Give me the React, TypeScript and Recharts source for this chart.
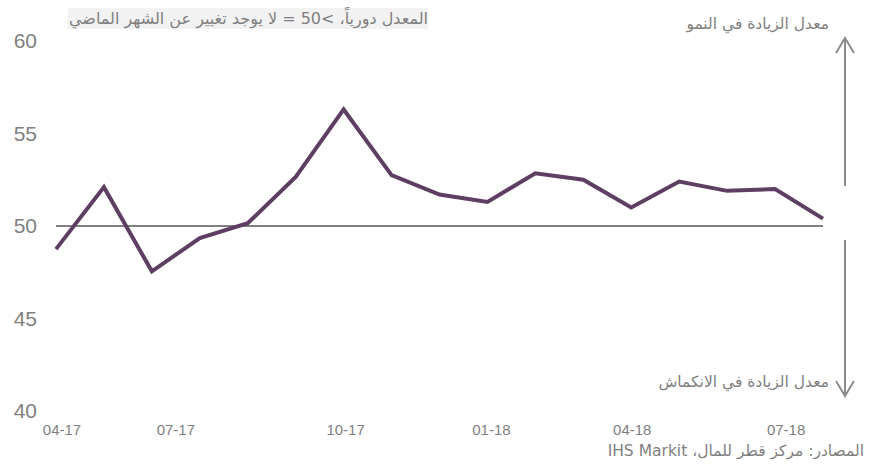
import { LineChart, Line, XAxis, YAxis, ReferenceLine } from "recharts";

const months = [
  "04-17", "05-17", "06-17", "07-17", "08-17", "09-17", "10-17", "11-17", "12-17",
  "01-18", "02-18", "03-18", "04-18", "05-18", "06-18", "07-18", "08-18",
];
const pmi = [
  48.75, 52.1, 47.55, 49.35, 50.15, 52.65, 56.3, 52.75, 51.7,
  51.3, 52.85, 52.5, 51.0, 52.4, 51.9, 52.0, 50.4,
];
const xTicks = ["04-17", "07-17", "10-17", "01-18", "04-18", "07-18"];
const yTicks = [40, 45, 50, 55, 60];

const noteText = "المعدل دورياً، >50 = لا يوجد تغيير عن الشهر الماضي";
const upText = "معدل الزيادة في النمو";
const downText = "معدل الزيادة في الانكماش";
const sourceText = "المصادر: مركز قطر للمال، IHS Markit";

const data = months.map((m, i) => ({ month: m, value: pmi[i] }));

const grey = "#808080";
const arabicFont = "'DejaVu Sans', Tahoma, sans-serif";

// labels in the original sit a little off their points
const tickShift: Record<string, number> = { "04-17": 6, "07-17": -24, "10-17": 2, "01-18": 4, "04-18": 1, "07-18": 11 };

const XTick = (props: any) => {
  const { x, y, payload } = props;
  return (
    <text x={x + (tickShift[payload.value] || 0)} y={y} dy="0.71em" textAnchor="middle"
      fill={grey} fontSize={15} fontFamily="'Liberation Sans', Arial, sans-serif">
      {payload.value}
    </text>
  );
};

const Arrow = ({ x, y1, y2 }: { x: number; y1: number; y2: number }) => {
  const dir = y2 < y1 ? 1 : -1;
  return (
    <g stroke="#8c8c8c" strokeWidth={2} fill="none">
      <line x1={x} y1={y1} x2={x} y2={y2} />
      <polyline points={`${x - 9},${y2 + dir * 15} ${x},${y2} ${x + 9},${y2 + dir * 15}`} />
    </g>
  );
};

const textStyle: React.CSSProperties = {
  position: "absolute",
  direction: "rtl",
  fontFamily: arabicFont,
  fontSize: 15.5,
  color: "#7f7f7f",
  whiteSpace: "nowrap",
  lineHeight: "21px",
};

export default function App() {
  return (
    <div style={{ position: "absolute", left: 0, top: 0, width: 880, height: 464, background: "#fff", overflow: "hidden" }}>
      <LineChart width={880} height={464} data={data} margin={{ top: 41, right: 57, bottom: 23, left: 0 }}>
        <XAxis dataKey="month" ticks={xTicks} interval={0} axisLine={false} tickLine={false}
          tickMargin={7} tick={<XTick />} padding={{ left: 0, right: 0 }} height={30} />
        <YAxis domain={[40, 60]} ticks={yTicks} axisLine={false} tickLine={false} width={56}
          tickMargin={13} tick={{ fill: grey, fontSize: 21, fontFamily: "'Liberation Sans', Arial, sans-serif" }} />
        <ReferenceLine y={50} stroke={grey} strokeWidth={2} />
        <Line type="linear" dataKey="value" stroke="#5e3f63" strokeWidth={4} dot={false}
          isAnimationActive={false} />
      </LineChart>
      <svg width={880} height={464} style={{ position: "absolute", left: 0, top: 0 }}>
        <Arrow x={845} y1={186} y2={38} />
        <Arrow x={845} y1={240} y2={396} />
      </svg>
      <div style={{ ...textStyle, left: 68, top: 8, width: 360, height: 21, background: "#f2f2f2", textAlign: "right", fontSize: 16 }}>
        {noteText}
      </div>
      <div style={{ ...textStyle, right: 880 - 829, top: 14 }}>{upText}</div>
      <div style={{ ...textStyle, right: 880 - 829, top: 372 }}>{downText}</div>
      <div style={{ ...textStyle, right: 880 - 864, top: 441 }}>{sourceText}</div>
    </div>
  );
}
